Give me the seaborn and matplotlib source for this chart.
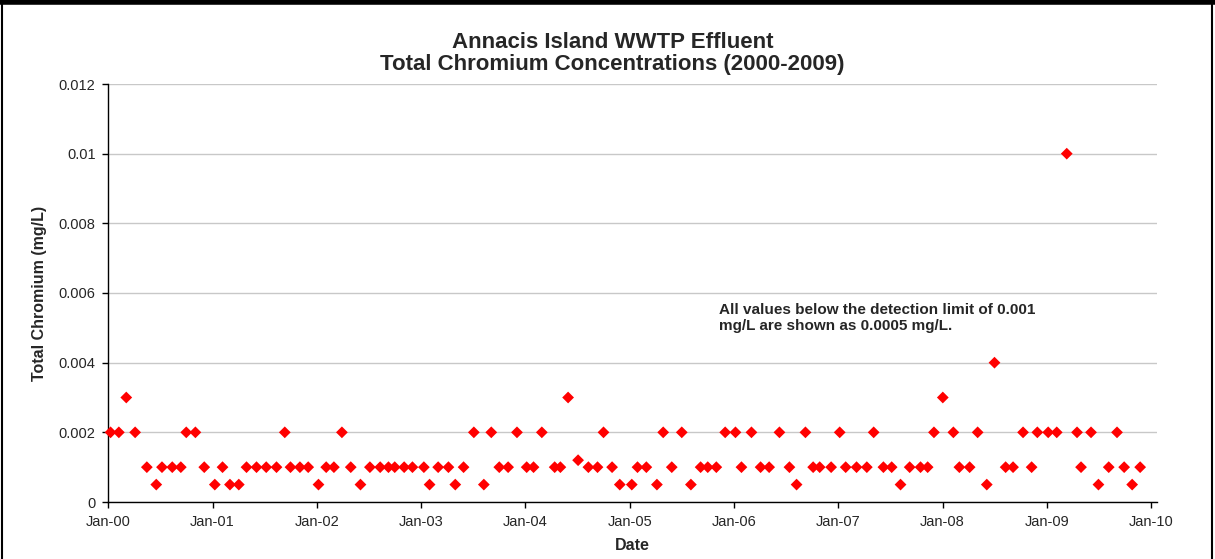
import matplotlib
matplotlib.use("Agg")
import matplotlib.pyplot as plt
import matplotlib.dates as mdates
from matplotlib.lines import Line2D
import pandas as pd
import seaborn as sns

sns.set_style("white")
plt.rcParams["font.family"] = ["Liberation Sans", "DejaVu Sans"]

# sample dates (roughly monthly)
dates = [
    "2000-01-10", "2000-02-08", "2000-03-05", "2000-04-05", "2000-05-16", "2000-06-18",
    "2000-07-08", "2000-08-13", "2000-09-12", "2000-10-01", "2000-11-02", "2000-12-03",
    "2001-01-09", "2001-02-05", "2001-03-03", "2001-04-03", "2001-04-30", "2001-06-04",
    "2001-07-08", "2001-08-13", "2001-09-11", "2001-10-01", "2001-11-03", "2001-12-02",
    "2002-01-07", "2002-02-03", "2002-03-02", "2002-03-30", "2002-04-30", "2002-06-03",
    "2002-07-06", "2002-08-11", "2002-09-09", "2002-10-01", "2002-11-03", "2002-12-02",
    "2003-01-11", "2003-01-31", "2003-03-02", "2003-04-07", "2003-05-01", "2003-05-30",
    "2003-07-05", "2003-08-09", "2003-09-04", "2003-10-02", "2003-11-02", "2003-12-03",
    "2004-01-06", "2004-01-30", "2004-02-28", "2004-04-13", "2004-05-03", "2004-05-30",
    "2004-07-04", "2004-08-09", "2004-09-10", "2004-10-01", "2004-10-31", "2004-11-27",
    "2005-01-08", "2005-01-28", "2005-02-28", "2005-04-06", "2005-04-28", "2005-05-28",
    "2005-07-02", "2005-08-03", "2005-09-06", "2005-10-01", "2005-10-31", "2005-12-01",
    "2006-01-06", "2006-01-27", "2006-03-03", "2006-04-04", "2006-05-04", "2006-06-09",
    "2006-07-14", "2006-08-08", "2006-09-08", "2006-10-05", "2006-10-28", "2006-12-07",
    "2007-01-06", "2007-01-27", "2007-03-06", "2007-04-11", "2007-05-05", "2007-06-08",
    "2007-07-07", "2007-08-07", "2007-09-08", "2007-10-16", "2007-11-10", "2007-12-02",
    "2008-01-02", "2008-02-08", "2008-02-29", "2008-04-05", "2008-05-03", "2008-06-04",
    "2008-07-01", "2008-08-09", "2008-09-04", "2008-10-09", "2008-11-08", "2008-11-28",
    "2009-01-05", "2009-02-04", "2009-03-11", "2009-04-16", "2009-04-30", "2009-06-04",
    "2009-06-30", "2009-08-05", "2009-09-03", "2009-09-28", "2009-10-26", "2009-11-23",
]

# total chromium (mg/L)
chromium = [
    0.002, 0.002, 0.003, 0.002, 0.001, 0.0005, 0.001, 0.001, 0.001, 0.002, 0.002, 0.001,
    0.0005, 0.001, 0.0005, 0.0005, 0.001, 0.001, 0.001, 0.001, 0.002, 0.001, 0.001, 0.001,
    0.0005, 0.001, 0.001, 0.002, 0.001, 0.0005, 0.001, 0.001, 0.001, 0.001, 0.001, 0.001,
    0.001, 0.0005, 0.001, 0.001, 0.0005, 0.001, 0.002, 0.0005, 0.002, 0.001, 0.001, 0.002,
    0.001, 0.001, 0.002, 0.001, 0.001, 0.003, 0.0012, 0.001, 0.001, 0.002, 0.001, 0.0005,
    0.0005, 0.001, 0.001, 0.0005, 0.002, 0.001, 0.002, 0.0005, 0.001, 0.001, 0.001, 0.002,
    0.002, 0.001, 0.002, 0.001, 0.001, 0.002, 0.001, 0.0005, 0.002, 0.001, 0.001, 0.001,
    0.002, 0.001, 0.001, 0.001, 0.002, 0.001, 0.001, 0.0005, 0.001, 0.001, 0.001, 0.002,
    0.003, 0.002, 0.001, 0.001, 0.002, 0.0005, 0.004, 0.001, 0.001, 0.002, 0.001, 0.002,
    0.002, 0.002, 0.01, 0.002, 0.001, 0.002, 0.0005, 0.001, 0.002, 0.001, 0.0005, 0.001,
]

y_ticks = [0, 0.002, 0.004, 0.006, 0.008, 0.01, 0.012]
y_labels = ["0", "0.002", "0.004", "0.006", "0.008", "0.01", "0.012"]
year_ticks = ["2000-01-01", "2001-01-01", "2002-01-01", "2003-01-01", "2004-01-01", "2005-01-01",
              "2006-01-01", "2007-01-01", "2008-01-01", "2009-01-01", "2010-01-01"]

df = pd.DataFrame({"Date": pd.to_datetime(dates), "Chromium": chromium})

fig = plt.figure(figsize=(12.15, 5.59), dpi=100)
ax = fig.add_axes([108 / 1215, 1 - 502 / 559, 1049 / 1215, 418 / 559])

sns.scatterplot(data=df, x="Date", y="Chromium", ax=ax, marker="D", s=36,
                color="#ff0000", edgecolor="none", zorder=3, clip_on=False)

ax.set_ylim(0, 0.012)
ax.set_xlim(pd.Timestamp("2000-01-01"), pd.Timestamp("2010-01-21"))
ax.set_yticks(y_ticks)
ax.set_yticklabels(y_labels)
ax.set_xticks(pd.to_datetime(year_ticks))
ax.xaxis.set_major_formatter(mdates.DateFormatter("Jan-%y"))
ax.tick_params(axis="both", direction="out", length=4, width=1, color="black",
               labelsize=10.5, pad=5, left=True, bottom=True)
ax.grid(axis="y", color="#c8c8c8", linewidth=1)
ax.set_axisbelow(True)
for side in ["top", "right"]:
    ax.spines[side].set_visible(False)
for side in ["left", "bottom"]:
    ax.spines[side].set_color("black")
    ax.spines[side].set_linewidth(1)

ax.set_xlabel("Date", fontsize=11.5, fontweight="bold")
ax.set_ylabel("Total Chromium (mg/L)", fontsize=11.5, fontweight="bold")
ax.xaxis.set_label_coords(0.5, -0.085)
ax.yaxis.set_label_coords(-0.058, 0.5)

fig.text(0.504, 0.905, "Annacis Island WWTP Effluent\nTotal Chromium Concentrations (2000-2009)",
         ha="center", va="center", fontsize=16, fontweight="bold", linespacing=1.05)

ax.text(0.582, 0.476, "All values below the detection limit of 0.001\nmg/L are shown as 0.0005 mg/L.",
        transform=ax.transAxes, ha="left", va="top", fontsize=11, fontweight="bold",
        linespacing=1.2)

# chart border like the original screenshot
fig.add_artist(Line2D([0, 1], [0.996, 0.996], transform=fig.transFigure, color="black", linewidth=4))
fig.add_artist(Line2D([0.0015, 0.0015], [0, 1], transform=fig.transFigure, color="black", linewidth=1.5))
fig.add_artist(Line2D([0.9975, 0.9975], [0, 1], transform=fig.transFigure, color="black", linewidth=1.5))

fig.savefig("out.png", dpi=100)
